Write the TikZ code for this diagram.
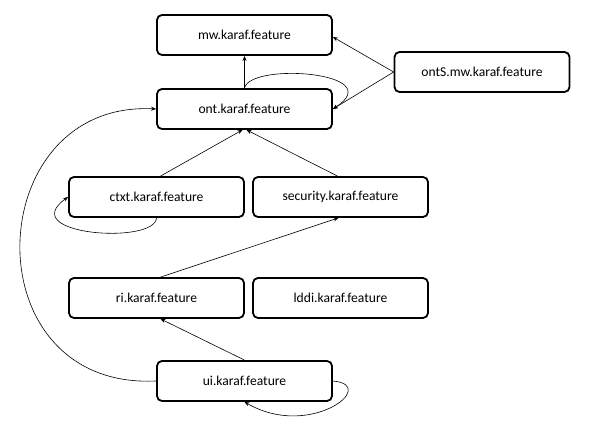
\documentclass[tikz,border=0pt]{standalone}
\usepackage{fontspec}
\setmainfont{Carlito}
\usepackage{tikz}
\usetikzlibrary{positioning,arrows.meta}

\begin{document}
\begin{tikzpicture}[x=1pt, y=-1pt, font=\fontsize{13.6}{16}\selectfont,
  feat/.style={draw=black, line width=1.8pt, fill=white, rounded corners=5pt, minimum width=175pt, minimum height=40pt, inner sep=2pt},
  dep/.style={-{Stealth[length=5pt, width=4pt]}, line width=0.6pt}]
\useasboundingbox (0,0) rectangle (590,438);
\node[feat] (mw) at (244.5,35) {mw.karaf.feature};
\node[feat] (onts) at (482,72) {ontS.mw.karaf.feature};
\node[feat] (ont) at (244.5,109) {ont.karaf.feature};
\node[feat] (ctxt) at (156.5,197) {ctxt.karaf.feature};
\node[feat] (sec) at (340.5,197) {security.karaf.feature};
\node[feat] (ri) at (156.5,298) {ri.karaf.feature};
\node[feat] (lddi) at (340.5,298) {lddi.karaf.feature};
\node[feat] (ui) at (244.5,381) {ui.karaf.feature};
% dependencies
\draw[dep] (ont) -- (mw);
\draw[dep] (onts.west) -- ([yshift=-2pt]mw.east);
\draw[dep] (onts.west) -- (ont.east);
\draw[dep] (ont.north) .. controls (250,62) and (390,72) .. (ont.east);
\draw[dep] ([xshift=4pt]ctxt.north) -- ([xshift=-2pt]ont.south);
\draw[dep] ([xshift=-3pt]sec.north) -- ([xshift=2pt]ont.south);
\draw[dep] (ctxt.south) .. controls (155,245) and (15,235) .. (ctxt.west);
\draw[dep] ([xshift=4pt]ri.north) -- ([xshift=-2pt]sec.south);
\draw[dep] (ui.north) -- ([xshift=4pt]ri.south);
\draw[dep] (ui.west) .. controls (-30,390) and (-20,100) .. (ont.west);
\draw[dep] (ui.east) .. controls (380,385) and (310,440) .. (ui.south);
\end{tikzpicture}
\end{document}
